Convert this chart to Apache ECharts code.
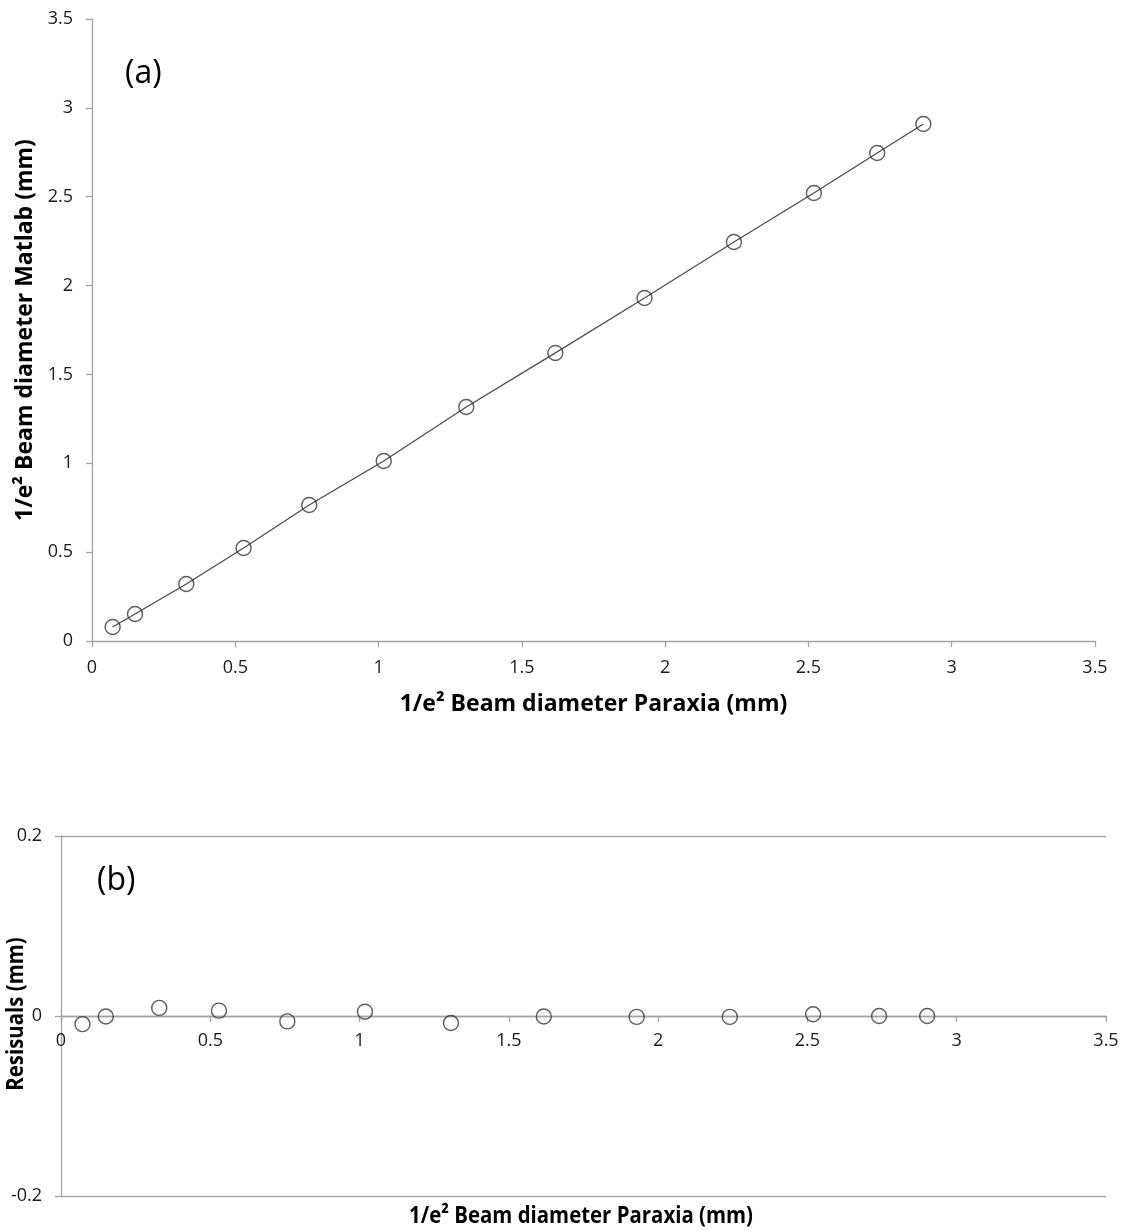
<!DOCTYPE html>
<html><head><meta charset="utf-8">
<script src="https://cdn.jsdelivr.net/npm/echarts@6/dist/echarts.min.js"></script>
<style>html,body{margin:0;padding:0;background:#fff}#c{width:1133px;height:1230px}</style>
</head><body><div id="c"></div>
<script>
// x values: 1/e^2 beam diameter from Paraxia (mm)
const paraxia = [0.072, 0.150, 0.329, 0.529, 0.758, 1.018, 1.306, 1.617, 1.928, 2.240, 2.519, 2.740, 2.901];
// y values (a): 1/e^2 beam diameter from Matlab (mm)
const matlab = [0.079, 0.152, 0.321, 0.523, 0.765, 1.013, 1.317, 1.621, 1.930, 2.245, 2.521, 2.746, 2.909];
// residuals (b) (mm)
const residuals = [-0.009, -0.0005, 0.009, 0.006, -0.006, 0.0048, -0.0078, -0.0005, -0.001, -0.001, 0.002, 0.0, 0.0];
const xTicks = [0, 0.5, 1, 1.5, 2, 2.5, 3, 3.5];
const yTicksA = [0, 0.5, 1, 1.5, 2, 2.5, 3, 3.5];
const yTicksB = [-0.2, 0, 0.2];

const ptsA = paraxia.map((x, i) => [x, matlab[i]]);
const ptsB = paraxia.map((x, i) => [x, residuals[i]]);

const FONT = '"Open Sans", Lato, sans-serif';
const axisCol = '#a3a3a3';
const txtCol = '#1a1a1a';
const fmt = v => String(Math.round(v * 10) / 10);

const gridB = {left: 61, top: 836, width: 1045, height: 360};

const chart = echarts.init(document.getElementById('c'), null, {renderer: 'canvas'});
chart.setOption({
  animation: false,
  backgroundColor: '#fff',
  grid: [
    {left: 92, top: 19, width: 1003, height: 622, containLabel: false, outerBoundsMode: 'none'},
    Object.assign({containLabel: false, outerBoundsMode: 'none'}, gridB)
  ],
  xAxis: [
    {
      gridIndex: 0, type: 'value', min: xTicks[0], max: xTicks[xTicks.length - 1], interval: 0.5,
      axisLine: {show: true, lineStyle: {color: axisCol, width: 1.3}},
      axisTick: {show: true, length: 6, lineStyle: {color: axisCol, width: 1.3}},
      axisLabel: {color: txtCol, fontSize: 18, fontFamily: FONT, margin: 18, formatter: fmt},
      splitLine: {show: false},
      name: '1/e² Beam diameter Paraxia (mm)', nameLocation: 'middle', nameGap: 52,
      nameTextStyle: {color: '#000', fontSize: 23, fontWeight: 'bold', fontFamily: FONT}
    },
    {
      // x axis of panel (b) sits on the zero line (middle of the symmetric y range)
      gridIndex: 1, type: 'value', min: xTicks[0], max: xTicks[xTicks.length - 1], interval: 0.5,
      position: 'bottom', offset: -gridB.height / 2,
      axisLine: {show: true, onZero: false, lineStyle: {color: axisCol, width: 1.3}},
      axisTick: {show: true, length: 6, lineStyle: {color: axisCol, width: 1.3}},
      axisLabel: {color: txtCol, fontSize: 18, fontFamily: FONT, margin: 16, formatter: fmt},
      splitLine: {show: false}
    }
  ],
  yAxis: [
    {
      gridIndex: 0, type: 'value', min: yTicksA[0], max: yTicksA[yTicksA.length - 1], interval: 0.5,
      axisLine: {show: true, lineStyle: {color: axisCol, width: 1.3}},
      axisTick: {show: true, length: 6, lineStyle: {color: axisCol, width: 1.3}},
      axisLabel: {color: txtCol, fontSize: 18, fontFamily: FONT, margin: 19, formatter: fmt},
      splitLine: {show: false},
      name: '1/e² Beam diameter Matlab (mm)', nameLocation: 'middle', nameGap: 54,
      nameTextStyle: {color: '#000', fontSize: 23, fontWeight: 'bold', fontFamily: FONT}
    },
    {
      gridIndex: 1, type: 'value', min: yTicksB[0], max: yTicksB[yTicksB.length - 1], interval: 0.2,
      axisLine: {show: true, onZero: false, lineStyle: {color: axisCol, width: 1.3}},
      axisTick: {show: true, length: 6, lineStyle: {color: axisCol, width: 1.3}},
      axisLabel: {color: txtCol, fontSize: 18, fontFamily: FONT, margin: 19, formatter: fmt},
      splitLine: {show: true, lineStyle: {color: axisCol, width: 1.3}}
    }
  ],
  graphic: [
    {type: 'text', left: 125, top: 58, style: {text: '(a)', fontSize: 32, fontFamily: FONT, fill: '#000'}},
    {type: 'text', left: 97, top: 865, style: {text: '(b)', fontSize: 32, fontFamily: FONT, fill: '#000'}},
    {type: 'text', x: 581, y: 1216, scaleX: 0.85,
      style: {text: '1/e² Beam diameter Paraxia (mm)', fontSize: 24, fontWeight: 'bold', fontFamily: FONT,
        fill: '#000', align: 'center', verticalAlign: 'middle'}},
    {type: 'text', x: 16, y: 1014, rotation: Math.PI / 2, scaleX: 0.85,
      style: {text: 'Resisuals (mm)', fontSize: 24, fontWeight: 'bold', fontFamily: FONT,
        fill: '#000', align: 'center', verticalAlign: 'middle'}}
  ],
  series: [
    {
      type: 'line', xAxisIndex: 0, yAxisIndex: 0, data: ptsA, symbol: 'none',
      lineStyle: {color: '#4d4d4d', width: 1.3}, z: 2, silent: true
    },
    {
      type: 'scatter', xAxisIndex: 0, yAxisIndex: 0, data: ptsA, symbol: 'circle', symbolSize: 15,
      itemStyle: {color: 'rgba(0,0,0,0)', borderColor: '#333', borderWidth: 1.4}, z: 3
    },
    {
      type: 'scatter', xAxisIndex: 1, yAxisIndex: 1, data: ptsB, symbol: 'circle', symbolSize: 15,
      itemStyle: {color: 'rgba(255,255,255,0)', borderColor: '#333', borderWidth: 1.4}, z: 3
    }
  ]
});
</script></body></html>
